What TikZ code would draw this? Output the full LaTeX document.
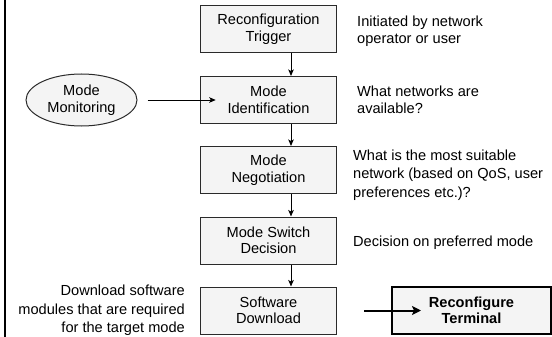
\documentclass[tikz,border=0pt]{standalone}
\usepackage{fontspec}
\setmainfont{Liberation Sans}
\usetikzlibrary{arrows.meta,shapes.geometric}
\definecolor{boxfill}{HTML}{F4F4F4}
\definecolor{edge}{HTML}{2A2A2A}
\begin{document}
\begin{tikzpicture}[x=1pt,y=-1pt,
  every node/.style={font=\fontsize{14.6}{16.5}\selectfont, text=black},
  stepbox/.style={draw=edge, line width=1pt, fill=boxfill, minimum width=136.5pt,
    minimum height=47pt, inner sep=0pt, align=center},
  termbox/.style={draw=black, line width=2pt, fill=boxfill, minimum width=159pt,
    minimum height=47pt, inner sep=0pt, align=center, font=\fontsize{14.6}{16.5}\selectfont\bfseries},
  monnode/.style={ellipse, draw=edge, line width=1pt, fill=boxfill, minimum width=111pt,
    minimum height=52pt, inner sep=0pt, align=center},
  note/.style={inner sep=0pt, align=left, anchor=west},
  arr/.style={draw=black, line width=0.9pt, -{Stealth[length=6.5pt,width=5.5pt,inset=1.5pt]}},
  bigarr/.style={draw=black, line width=2pt, -{Stealth[length=9pt,width=9pt,inset=2pt]}}]
  \useasboundingbox (0,0) rectangle (552,337);

  % frame line on the left
  \draw[line width=2pt] (5,0) -- (5,337);

  % main chain of steps
  \node[stepbox] (trig)   at (268.5,29)    {Reconfiguration\\Trigger};
  \node[stepbox] (ident)  at (268.5,100)   {Mode\\Identification};
  \node[stepbox] (nego)   at (268.5,170)   {Mode\\Negotiation};
  \node[stepbox] (switch) at (268.5,240.5) {Mode Switch\\Decision};
  \node[stepbox] (down)   at (268.5,310.5) {Software\\Download};

  \node[monnode] (mon) at (81.5,100) {Mode\\Monitoring};
  \node[termbox] (rt) at (471.5,310.5) {Reconfigure\\Terminal};

  % side notes
  \node[note, font=\fontsize{14.6}{16.6}\selectfont] (n1) at (357,31.2) {Initiated by network\\operator or user};
  \node[note, font=\fontsize{14.6}{16.3}\selectfont] (n2) at (357,99.7) {What networks are\\available?};
  \node[note, font=\fontsize{14.6}{18.3}\selectfont] (n3) at (353,175.2) {What is the most suitable\\network (based on QoS, user\\preferences etc.)?};
  \node[note] (n4) at (353,242.9) {Decision on preferred mode};
  \node[inner sep=0pt, align=right, anchor=east, font=\fontsize{14.6}{18.3}\selectfont] (n5) at (185,310.5)
    {Download software\\modules that are required\\for the target mode};

  % connectors
  \coordinate (ax) at (291,0);
  \draw[arr] (trig.south -| ax) -- (ident.north -| ax);
  \draw[arr] (ident.south -| ax) -- (nego.north -| ax);
  \draw[arr] (nego.south -| ax) -- (switch.north -| ax);
  \draw[arr] (switch.south -| ax) -- (down.north -| ax);
  \draw[arr, shorten <=10pt, shorten >=-16pt] (mon.east) -- (ident.west);

  \coordinate (tin) at (364,310.5);
  \draw[bigarr, shorten >=-30pt] (tin) -- (rt.west);
\end{tikzpicture}
\end{document}
